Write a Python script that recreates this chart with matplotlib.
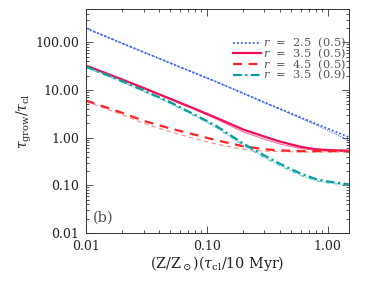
import numpy as np
import matplotlib
matplotlib.use("Agg")
import matplotlib.pyplot as plt
from matplotlib.ticker import FixedLocator, FormatStrFormatter, LogLocator, NullFormatter

plt.rcParams["font.family"] = "DejaVu Serif"
plt.rcParams["mathtext.fontset"] = "dejavuserif"
plt.rcParams["font.size"] = 9

# values, x = (Z/Zsun)(tau_cl/10 Myr)
x = [0.01, 0.02, 0.03, 0.05, 0.08, 0.12, 0.2, 0.3, 0.4, 0.6, 0.8, 1.0, 1.5]

# r = 2.5 (blue, dotted)
r25_thick = [197, 95, 62, 36.5, 22.5, 14.8, 8.5, 5.5, 4.05, 2.65, 1.95, 1.56, 1.02]
r25_thin = [197, 95, 62, 36.5, 22.5, 14.8, 8.5, 5.4, 3.95, 2.55, 1.85, 1.44, 0.86]
# r = 3.5, f = 0.5 (pink, solid)
r35_thick = [32.5, 16.5, 11.0, 6.5, 4.0, 2.6, 1.48, 1.05, 0.83, 0.64, 0.57, 0.55, 0.53]
r35_thin = [32.0, 16.2, 10.8, 6.3, 3.85, 2.45, 1.32, 0.92, 0.74, 0.59, 0.54, 0.52, 0.51]
# r = 4.5 (red, dashed)
r45_thick = [6.0, 3.3, 2.25, 1.55, 1.15, 0.88, 0.66, 0.57, 0.54, 0.52, 0.52, 0.52, 0.52]
r45_thin = [5.7, 3.0, 2.0, 1.32, 0.95, 0.73, 0.57, 0.52, 0.51, 0.5, 0.5, 0.5, 0.5]
# r = 3.5, f = 0.9 (teal, dash-dot)
f09_thick = [31, 15.3, 9.8, 5.5, 3.0, 1.75, 0.75, 0.42, 0.285, 0.175, 0.135, 0.12, 0.105]
f09_thin = [29.5, 14.6, 9.3, 5.2, 2.85, 1.63, 0.69, 0.38, 0.26, 0.16, 0.125, 0.112, 0.1]

labels = ["$r$  =  2.5  (0.5)", "$r$  =  3.5  (0.5)", "$r$  =  4.5  (0.5)", "$r$  =  3.5  (0.9)"]
yticks = [0.01, 0.1, 1, 10, 100]
xticks = [0.01, 0.1, 1]

blue = "#3a5cff"
pink = "#f0105a"
pink_l = "#ff6f9c"
red = "#ff2222"
red_l = "#ff8888"
teal = "#0a9e9e"
teal_l = "#4cc4c4"

fig = plt.figure(figsize=(3.74, 2.81), dpi=100)
ax = fig.add_axes([0.230, 0.171, 0.703, 0.797])

ax.plot(x, r25_thin, color=blue, ls=(0, (1, 1.2)), lw=0.8)
ax.plot(x, r25_thick, color=blue, ls=(0, (1, 1.2)), lw=1.3, label=labels[0])
ax.plot(x, r35_thin, color=pink_l, ls="-", lw=0.8)
ax.plot(x, r35_thick, color=pink, ls="-", lw=1.6, label=labels[1])
ax.plot(x, r45_thin, color=red_l, ls=(0, (4, 3)), lw=0.8)
ax.plot(x, r45_thick, color=red, ls=(0, (4, 3)), lw=1.6, label=labels[2])
ax.plot(x, f09_thin, color=teal_l, ls=(0, (4, 1.5, 1, 1.5)), lw=0.8)
ax.plot(x, f09_thick, color=teal, ls=(0, (4, 1.5, 1, 1.5)), lw=1.6, label=labels[3])

ax.set_xscale("log")
ax.set_yscale("log")
ax.set_xlim(0.01, 1.5)
ax.set_ylim(0.01, 500)

ax.xaxis.set_major_locator(FixedLocator(xticks))
ax.yaxis.set_major_locator(FixedLocator(yticks))
ax.xaxis.set_major_formatter(FormatStrFormatter("%.2f"))
ax.yaxis.set_major_formatter(FormatStrFormatter("%.2f"))
ax.xaxis.set_minor_locator(LogLocator(base=10, subs=np.arange(2, 10)))
ax.yaxis.set_minor_locator(LogLocator(base=10, subs=np.arange(2, 10)))
ax.xaxis.set_minor_formatter(NullFormatter())
ax.yaxis.set_minor_formatter(NullFormatter())
ax.tick_params(which="both", direction="in", top=True, right=True, width=0.6, colors="#333333")
ax.tick_params(which="major", length=5, pad=5, labelsize=9, labelcolor="#222222")
ax.tick_params(which="minor", length=2.5)
for s in ax.spines.values():
    s.set_linewidth(0.7)
    s.set_color("#333333")

ax.set_xlabel(r"(Z/Z$_\odot$)($\tau_{\rm cl}$/10 Myr)", fontsize=10.3, color="#222222", labelpad=1)
ax.set_ylabel(r"$\tau_{\rm grow}/\tau_{\rm cl}$", fontsize=10, color="#222222", labelpad=1)

ax.text(0.025, 0.05, "(b)", transform=ax.transAxes, fontsize=10.5, color="#555555")

leg = ax.legend(loc="upper right", frameon=False, fontsize=8.2, handlelength=2.4,
                handletextpad=0.25, labelspacing=-0.34, borderpad=0, borderaxespad=0,
                bbox_to_anchor=(0.99, 0.88))
for t in leg.get_texts():
    t.set_color("#555555")

fig.savefig("out.png", dpi=100)
